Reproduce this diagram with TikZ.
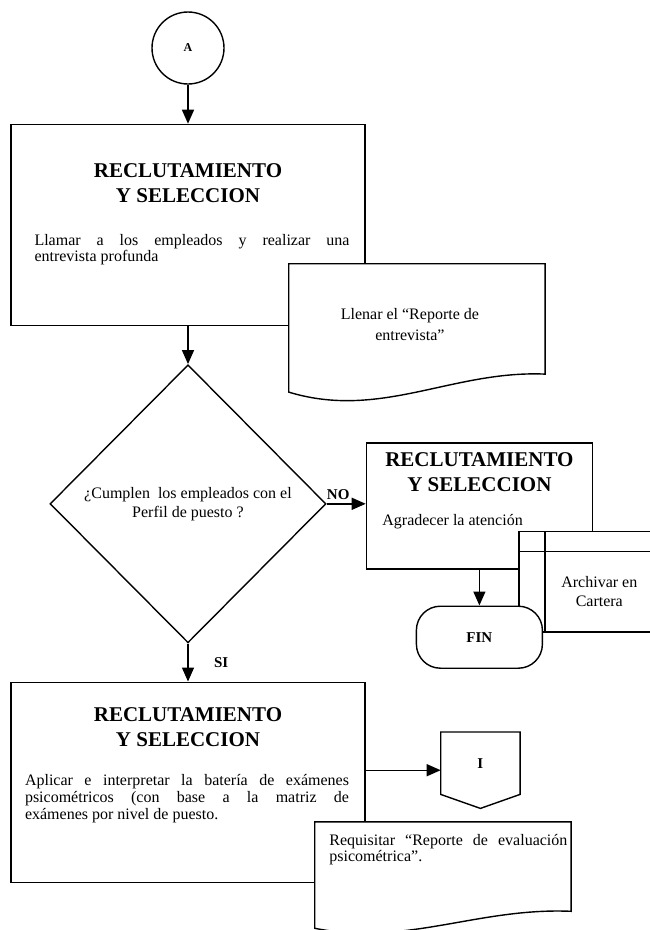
\documentclass[tikz,border=0pt]{standalone}
\usepackage{fontspec}
\setmainfont{Liberation Serif}
\usetikzlibrary{positioning,shapes.geometric,arrows.meta}

\tikzset{
	flowpicture/.style = {
		x = 1pt,
		y = -1pt,
		line width = 1.4pt,
		arrow/.style = {
			draw,
			-{Triangle[length=14pt, width=12pt]},
		}
	},
	connector/.style = {
		circle,
		draw = black,
		minimum size = 72pt,
		font = \bfseries\fontsize{12}{14}\selectfont
	},
	taskbox/.style = {
		rectangle,
		draw = black,
		fill = white,
		minimum width = 354pt,
		minimum height = 201pt
	},
	boxtitle/.style = {
		align = center,
		inner sep = 0pt,
		font = \bfseries\fontsize{21}{25}\selectfont
	},
	boxtext/.style = {
		align = justify,
		inner sep = 0pt,
		font = \fontsize{16}{17}\selectfont
	},
	decision/.style = {
		diamond,
		draw = black,
		aspect = 1,
		minimum width = 276pt,
		minimum height = 278pt,
		align = center,
		font = \fontsize{16}{19}\selectfont
	},
	terminal/.style = {
		rectangle,
		rounded corners = 24pt,
		draw = black,
		fill = white,
		minimum width = 126pt,
		minimum height = 62pt,
		font = \bfseries\fontsize{15}{17}\selectfont
	},
	answer/.style = {
		font = \bfseries\fontsize{15}{17}\selectfont
	}
}

\begin{document}
\begin{tikzpicture}[flowpicture]
	\useasboundingbox (0,0) rectangle (650,930);

	\node[connector] (A) at (188,48) {A};

	% primera tarea
	\node[taskbox, below = 39pt of A] (box1) {};
	\node[boxtitle] at ([yshift=-59pt]box1.north) {RECLUTAMIENTO\\Y SELECCION};
	\node[boxtext, text width = 315pt, font = \fontsize{16}{16}\selectfont]
		at ([xshift=4pt, yshift=-126pt]box1.north)
		{Llamar a los empleados y realizar una\linebreak entrevista profunda};

	\node[minimum width = 255pt, minimum height = 127pt, anchor = north west]
		(doc1) at ([xshift=-77pt, yshift=-140pt]box1.north east) {};
	\draw[fill = white] (doc1.north west) -- (doc1.north east) -- ([yshift=18pt]doc1.south east)
		.. controls +(-93,-4) and +(92,28) .. (doc1.south west) -- cycle;
	\node[align = center, font = \fontsize{16}{21}\selectfont]
		at ([xshift=-7pt, yshift=3pt]doc1.center) {Llenar el ``Reporte de\\entrevista''};

	% decision
	\node[decision, below = 38pt of box1] (q) {¿Cumplen\ \ los empleados con el\\Perfil de puesto ?};

	\node[taskbox, minimum width = 226pt, minimum height = 126pt, right = 39pt of q, yshift = -2pt] (box2) {};
	\node[boxtitle] at ([yshift=-30pt]box2.north) {RECLUTAMIENTO\\Y SELECCION};
	\node[anchor = west, inner sep = 0pt, font = \fontsize{16}{17}\selectfont]
		at ([xshift=16pt, yshift=-80pt]box2.north west) {Agradecer la atención};

	% archivo
	\node[minimum width = 107pt, minimum height = 79pt, anchor = north west]
		(arch) at ([xshift=-48pt, yshift=18pt]box2.south east) {};
	\fill[white] ([xshift=-26pt, yshift=20pt]arch.north west) rectangle (arch.south east);
	\draw ([yshift=20pt]arch.north east) -| ([xshift=-26pt]arch.south west) -- (arch.south east);
	\draw ([xshift=-26pt]arch.north west) -- (arch.north east);
	\draw ([yshift=20pt]arch.north west) -- (arch.south west);
	\node[align = center, font = \fontsize{16}{19}\selectfont] at (arch.center) {Archivar en\\Cartera};

	\node[terminal, below = 36pt of box2] (fin) {FIN};

	% segunda tarea
	\node[taskbox, minimum height = 200pt, below = 38pt of q] (box3) {};
	\node[boxtitle] at ([yshift=-46pt]box3.north) {RECLUTAMIENTO\\Y SELECCION};
	\node[boxtext, text width = 324pt] at ([xshift=-1pt, yshift=-117pt]box3.north)
		{Aplicar e interpretar la batería de exámenes\linebreak psicométricos (con base a la matriz de\linebreak exámenes por nivel de puesto.};

	\node[minimum width = 78pt, minimum height = 61pt, right = 75pt of box3, yshift = 19pt,
		font = \bfseries\fontsize{15}{17}\selectfont] (offpage) {I};
	\draw (offpage.north west) -- (offpage.north east) -- (offpage.south east)
		-- ([yshift=-14pt]offpage.south) -- (offpage.south west) -- cycle;

	\node[minimum width = 255pt, minimum height = 105pt, anchor = north west]
		(doc3) at ([xshift=-51pt, yshift=61pt]box3.south east) {};
	\draw[fill = white] (doc3.north west) -- (doc3.north east) -- ([yshift=17pt]doc3.south east)
		.. controls +(-93,-4) and +(92,18) .. (doc3.south west) -- cycle;
	\node[boxtext, text width = 238pt, anchor = north west, font = \fontsize{16}{16}\selectfont]
		at ([xshift=14pt, yshift=-12pt]doc3.north west)
		{Requisitar ``Reporte de evaluación\linebreak psicométrica''.};

	\coordinate (toI) at ([yshift=12pt]box3.east);
	\begin{scope}[every path/.style = arrow]
		\path (A) to (box1);
		\path (box1) to (q);
		\path (q) to node[answer, above, xshift = -8pt] {NO} (q -| box2.west);
		\path (q) to node[answer, right = 22pt] {SI} (box3);
		\path (box2) to (fin);
		\path (toI) to (toI -| offpage.west);
	\end{scope}
\end{tikzpicture}
\end{document}
